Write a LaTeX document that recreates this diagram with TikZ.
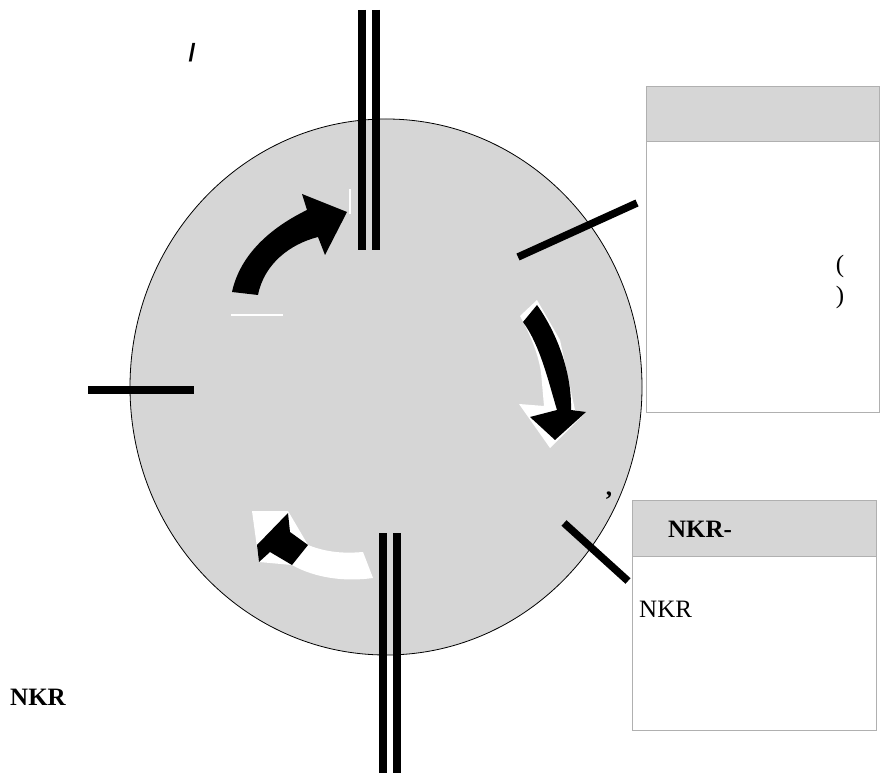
\documentclass[tikz,border=0pt]{standalone}
\usepackage{fontspec}
\setmainfont{Liberation Serif}
\newfontfamily\slashfont{Liberation Sans}
\usetikzlibrary{shapes.geometric}

\definecolor{cellgray}{HTML}{D6D6D6}
\definecolor{framegray}{HTML}{B0B0B0}

\tikzset{
  bar/.style={line width=7.5pt},
  panel/.style={draw=framegray, line width=1pt, fill=white, inner sep=0pt, outer sep=0pt, anchor=north west},
  panelhead/.style={panel, fill=cellgray},
  txt/.style={font=\fontsize{25}{30}\selectfont, inner sep=0pt},
  btxt/.style={font=\fontsize{25}{30}\selectfont\bfseries, inner sep=0pt}
}

\begin{document}
\begin{tikzpicture}[x=1pt,y=-1pt]
  \useasboundingbox (0,0) rectangle (884,775);

  \node[ellipse, draw, fill=cellgray, line width=0.8pt, inner sep=0pt,
        minimum width=512, minimum height=536] (cell) at (386,387) {};

  \node[panel, minimum width=233, minimum height=326] (info) at (646,87) {};
  \node[panelhead, minimum width=233, minimum height=55] (info-h) at (646,87) {};
  \node[panel, minimum width=244, minimum height=229] (nkr) at (632,501) {};
  \node[panelhead, minimum width=244, minimum height=55] (nkr-h) at (632,501) {};

  \foreach \x/\n in {362/1, 376/2} {
    \coordinate (in-\n) at (\x,10);
    \coordinate (in-end-\n) at (\x,250);
    \draw[bar] (in-\n) -- (in-end-\n);
  }
  \foreach \x/\n in {383/1, 397/2} {
    \coordinate (out-\n) at (\x,533);
    \coordinate (out-end-\n) at (\x,773);
    \draw[bar] (out-\n) -- (out-end-\n);
  }

  \coordinate (left-a) at (88,390);
  \coordinate (left-b) at (194,390);
  \draw[bar] (left-a) -- (left-b);

  \coordinate (info-a) at (518,257);
  \coordinate (info-b) at (637,203);
  \draw[bar] (info-a) -- (info-b);

  \coordinate (nkr-a) at (564,523);
  \coordinate (nkr-b) at (628,581);
  \draw[bar] (nkr-a) -- (nkr-b);

  \fill (232,292) .. controls (240,255) and (270,228) .. (307,210) -- (302,194)
    -- (347,212) -- (325,255) -- (318,237) .. controls (290,244) and (264,264) .. (258,295) -- cycle;
  \draw[white, line width=1.5pt] (231,315) -- (283,315);
  \draw[white, line width=1.2pt] (350,189) -- (350,214);

  \fill[white] (520,316) -- (537,300) -- (560,340) -- (575,410) -- (585,413) -- (550,448)
    -- (519,404) -- (544,406) -- (541,372) .. controls (538,355) and (533,340) .. (520,316) -- cycle;
  \fill (523,322) -- (537,305) .. controls (555,330) and (572,370) .. (571,410) -- (586,412)
    -- (555,440) -- (530,417) -- (557,410) .. controls (548,380) and (540,345) .. (523,322) -- cycle;

  \fill[white] (252,511) -- (288,511) -- (308,545) .. controls (330,554) and (350,553) .. (363,552)
    -- (373,578) .. controls (345,582) and (315,578) .. (292,565) -- (259,562) -- cycle;
  \fill (257,545) -- (288,513) -- (290,532) -- (308,545) -- (292,565) -- (270,552) -- (259,562) -- cycle;

  \node[txt, font=\fontsize{25}{30}\selectfont\slashfont\bfseries] (slash) at (192,53) {/};
  \node[txt] (open) at (840,266) {(};
  \node[txt] (close) at (840,297) {)};
  \node[btxt, anchor=base] (comma) at (609,496) {,};
  \node[btxt] (nkr-title) at (700,529) {NKR-};
  \node[txt, anchor=west] (nkr-text) at (639,609) {NKR};
  \node[btxt, anchor=west] (nkr-left) at (10,697) {NKR};
\end{tikzpicture}
\end{document}
